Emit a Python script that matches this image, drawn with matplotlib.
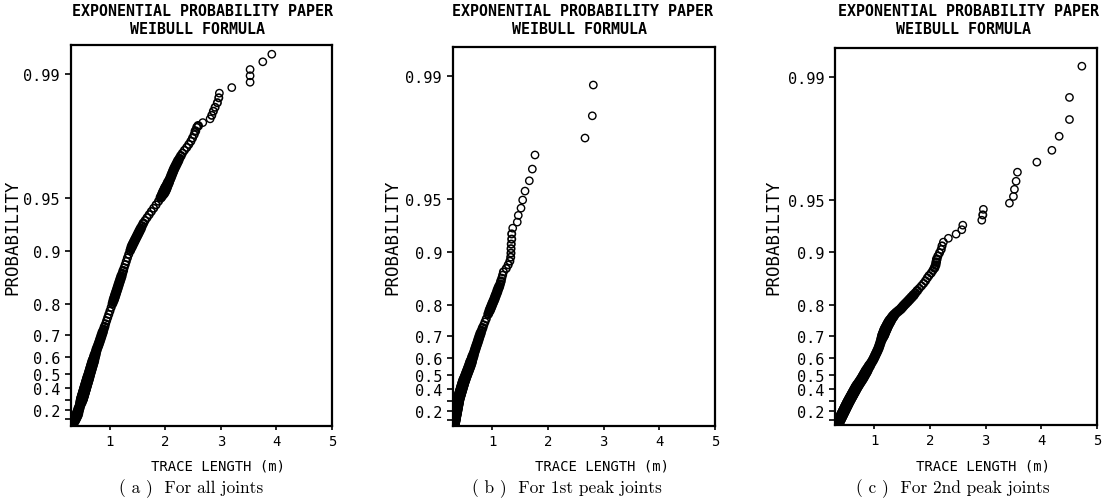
import numpy as np
import matplotlib
matplotlib.use("Agg")
import matplotlib.pyplot as plt

# ---------------- data (probability = Weibull plotting position, length in m) ----------------
a_prob = [0.02, 0.04, 0.06, 0.08, 0.10, 0.12, 0.14, 0.16, 0.18, 0.20, 0.22, 0.24, 0.26, 0.28, 0.30,
          0.31, 0.32, 0.33, 0.34, 0.35, 0.36, 0.37, 0.38, 0.39, 0.40, 0.41, 0.42, 0.43, 0.44, 0.45,
          0.46, 0.47, 0.48, 0.49, 0.50, 0.51, 0.52, 0.53, 0.54, 0.55, 0.56, 0.57, 0.58, 0.59, 0.60,
          0.61, 0.62, 0.63, 0.64, 0.65, 0.66, 0.67, 0.68, 0.69, 0.70, 0.71, 0.72, 0.73, 0.74, 0.75,
          0.76, 0.77, 0.78, 0.79, 0.80,
          0.805, 0.81, 0.815, 0.82, 0.825, 0.83, 0.835, 0.84, 0.845, 0.85, 0.855, 0.86, 0.865, 0.87,
          0.875, 0.88, 0.885, 0.89, 0.895, 0.90,
          0.9025, 0.905, 0.9075, 0.91, 0.9125, 0.915, 0.9175, 0.92, 0.9225, 0.925, 0.9275, 0.93,
          0.9325, 0.935, 0.9375, 0.94, 0.9425, 0.945, 0.9475, 0.95,
          0.951, 0.952, 0.953, 0.954, 0.955, 0.956, 0.957, 0.958, 0.959, 0.960, 0.961, 0.962, 0.963,
          0.964, 0.965, 0.966, 0.967, 0.968, 0.969, 0.970, 0.971, 0.972, 0.973, 0.974, 0.975, 0.976,
          0.977, 0.978, 0.979, 0.980,
          0.9804, 0.9812, 0.9821, 0.9829, 0.9838, 0.9846, 0.9855, 0.9864, 0.9872, 0.9881, 0.9889,
          0.9898, 0.9906, 0.9915, 0.9923]
a_length = [0.314, 0.328, 0.343, 0.357, 0.373, 0.388, 0.404, 0.416, 0.426, 0.436, 0.447, 0.459, 0.470, 0.482, 0.494,
            0.500, 0.506, 0.512, 0.518, 0.525, 0.531, 0.537, 0.544, 0.551, 0.557, 0.564, 0.571, 0.578, 0.585, 0.593,
            0.600, 0.608, 0.616, 0.624, 0.632, 0.640, 0.649, 0.657, 0.666, 0.675, 0.684, 0.694, 0.704, 0.713, 0.724,
            0.734, 0.745, 0.755, 0.766, 0.783, 0.797, 0.811, 0.825, 0.840, 0.855, 0.871, 0.888, 0.905, 0.923, 0.941,
            0.960, 0.980, 1.001, 1.023, 1.046,
            1.058, 1.070, 1.082, 1.094, 1.107, 1.120, 1.133, 1.147, 1.161, 1.176, 1.191, 1.207, 1.224, 1.241,
            1.258, 1.277, 1.296, 1.316, 1.339, 1.366,
            1.380, 1.394, 1.411, 1.430, 1.449, 1.469, 1.490, 1.511, 1.533, 1.556, 1.579, 1.603,
            1.634, 1.670, 1.708, 1.747, 1.789, 1.832, 1.876, 1.916,
            1.933, 1.950, 1.967, 1.983, 1.997, 2.011, 2.026, 2.041, 2.056, 2.072, 2.087, 2.102, 2.116,
            2.132, 2.147, 2.165, 2.186, 2.207, 2.229, 2.252, 2.279, 2.307, 2.342, 2.384, 2.421, 2.458,
            2.488, 2.518, 2.540, 2.564,
            2.590, 2.673, 2.805, 2.835, 2.864, 2.895, 2.936, 2.961, 2.972, 3.195, 3.525,
            3.525, 3.525, 3.754, 3.916]

b_prob = [0.01, 0.02, 0.03, 0.04, 0.05, 0.06, 0.07, 0.08, 0.09, 0.10, 0.11, 0.12, 0.13, 0.14, 0.15,
          0.16, 0.17, 0.18, 0.19, 0.20, 0.21, 0.22, 0.23, 0.24, 0.25, 0.26, 0.27, 0.28, 0.29, 0.30,
          0.31, 0.32, 0.33, 0.34, 0.35, 0.36, 0.37, 0.38, 0.39, 0.40, 0.41, 0.42, 0.43, 0.44, 0.45,
          0.46, 0.47, 0.48, 0.49, 0.50, 0.51, 0.52, 0.53, 0.54, 0.55, 0.56, 0.57, 0.58, 0.59, 0.60,
          0.61, 0.62, 0.63, 0.64, 0.65, 0.66, 0.67, 0.68, 0.69, 0.70, 0.71, 0.72, 0.73, 0.74, 0.75, 0.76,
          0.7740, 0.7797, 0.7853, 0.7910, 0.7966, 0.8023, 0.8079, 0.8136, 0.8192, 0.8249, 0.8305,
          0.8362, 0.8418, 0.8475, 0.8531, 0.8588, 0.8644, 0.8701, 0.8757, 0.8814, 0.8870, 0.8927,
          0.8983, 0.9040, 0.9096, 0.9153, 0.9209, 0.9266, 0.9322, 0.9379, 0.9435, 0.9492, 0.9548,
          0.9605, 0.9661, 0.9718, 0.9774, 0.9831, 0.9887]
b_length = [0.305, 0.307, 0.310, 0.313, 0.315, 0.318, 0.321, 0.324, 0.327, 0.329, 0.332, 0.335, 0.338, 0.341, 0.344,
            0.347, 0.350, 0.353, 0.357, 0.360, 0.363, 0.366, 0.370, 0.373, 0.376, 0.380, 0.383, 0.387, 0.390, 0.394,
            0.398, 0.402, 0.408, 0.415, 0.421, 0.427, 0.434, 0.440, 0.447, 0.454, 0.460, 0.467, 0.475, 0.482, 0.489,
            0.498, 0.508, 0.518, 0.528, 0.539, 0.549, 0.560, 0.571, 0.582, 0.594, 0.605, 0.615, 0.626, 0.637, 0.648,
            0.660, 0.672, 0.684, 0.696, 0.709, 0.722, 0.736, 0.750, 0.764, 0.779, 0.795, 0.813, 0.832, 0.853, 0.874, 0.897,
            0.930, 0.945, 0.960, 0.975, 0.990, 1.005, 1.022, 1.040, 1.055, 1.072, 1.090,
            1.105, 1.125, 1.145, 1.160, 1.175, 1.190, 1.205, 1.255, 1.290, 1.320, 1.335,
            1.340, 1.341, 1.345, 1.353, 1.353, 1.371, 1.453, 1.471, 1.520, 1.550, 1.592,
            1.669, 1.723, 1.771, 2.668, 2.799, 2.817]

c_prob = [0.01, 0.02, 0.03, 0.04, 0.05, 0.06, 0.07, 0.08, 0.09, 0.10, 0.11, 0.12, 0.13, 0.14, 0.15,
          0.16, 0.17, 0.18, 0.19, 0.20, 0.21, 0.22, 0.23, 0.24, 0.25, 0.26, 0.27, 0.28, 0.29, 0.30,
          0.31, 0.32, 0.33, 0.34, 0.35, 0.36, 0.37, 0.38, 0.39, 0.40, 0.41, 0.42, 0.43, 0.44, 0.45,
          0.46, 0.47, 0.48, 0.49, 0.50, 0.51, 0.52, 0.53, 0.54, 0.55, 0.56, 0.57, 0.58, 0.59, 0.60,
          0.61, 0.62, 0.63, 0.64, 0.65, 0.66, 0.67, 0.68, 0.69, 0.70,
          0.705, 0.71, 0.715, 0.72, 0.725, 0.73, 0.735, 0.74, 0.745, 0.75, 0.755, 0.76, 0.765, 0.77,
          0.775, 0.78, 0.785, 0.79, 0.795, 0.80, 0.805, 0.81, 0.815, 0.82, 0.825, 0.83, 0.835, 0.84,
          0.845, 0.85, 0.855,
          0.8603, 0.8646, 0.8690, 0.8734, 0.8777, 0.8821, 0.8865, 0.8908, 0.8952, 0.8996, 0.9039,
          0.9083, 0.9127, 0.9170, 0.9214, 0.9258, 0.9301, 0.9345, 0.9389, 0.9432, 0.9476, 0.9520,
          0.9563, 0.9607, 0.9651, 0.9694, 0.9738, 0.9782, 0.9825, 0.9869, 0.9913]
c_length = [0.307, 0.314, 0.321, 0.328, 0.335, 0.342, 0.349, 0.356, 0.364, 0.371, 0.379, 0.386, 0.394, 0.402, 0.410,
            0.418, 0.426, 0.434, 0.442, 0.451, 0.459, 0.468, 0.477, 0.485, 0.494, 0.504, 0.513, 0.522, 0.532, 0.543,
            0.553, 0.564, 0.575, 0.587, 0.598, 0.610, 0.621, 0.634, 0.646, 0.658, 0.671, 0.684, 0.700, 0.716, 0.733,
            0.749, 0.766, 0.783, 0.798, 0.813, 0.829, 0.845, 0.861, 0.877, 0.895, 0.914, 0.933, 0.953, 0.973, 0.990,
            1.007, 1.023, 1.041, 1.058, 1.075, 1.088, 1.102, 1.116, 1.131, 1.149,
            1.158, 1.168, 1.177, 1.187, 1.197, 1.209, 1.222, 1.235, 1.248, 1.264, 1.280, 1.298, 1.318, 1.340,
            1.362, 1.394, 1.432, 1.471, 1.500, 1.529, 1.563, 1.598, 1.632, 1.667, 1.703, 1.736, 1.770, 1.806,
            1.845, 1.883, 1.918,
            1.950, 1.980, 2.020, 2.050, 2.080, 2.100, 2.110, 2.120, 2.140, 2.170, 2.200,
            2.215, 2.239, 2.329, 2.467, 2.570, 2.588, 2.929, 2.947, 2.958, 3.426, 3.498,
            3.516, 3.546, 3.570, 3.919, 4.189, 4.320, 4.505, 4.505, 4.728]

prob_ticks = [0.1, 0.2, 0.3, 0.4, 0.5, 0.6, 0.7, 0.8, 0.9, 0.95, 0.99]
prob_tick_labels = ["", "0.2", "", "0.4", "0.5", "0.6", "0.7", "0.8", "0.9", "0.95", "0.99"]
length_ticks = [1, 2, 3, 4, 5]
length_tick_labels = ["1", "2", "3", "4", "5"]
title_line1 = "EXPONENTIAL PROBABILITY PAPER"
title_line2 = "WEIBULL FORMULA"
y_label = "PROBABILITY"
x_label = "TRACE LENGTH (m)"
captions = ["( a )  For all joints", "( b )  For 1st peak joints", "( c )  For 2nd peak joints"]

panels = [(a_length, a_prob), (b_length, b_prob), (c_length, c_prob)]

# ---------------- layout ----------------
W, H = 1109, 502
fig = plt.figure(figsize=(W / 100, H / 100), dpi=100)

# axes boxes in pixels: left, right, top, bottom
boxes = [(71, 332, 46, 426.7), (453, 715, 48, 427), (835.5, 1097, 49, 425.5)]
# reduced-variate limits of each panel
tlims = [(0.017, 4.987), (0.026, 4.98), (0.048, 4.983)]
title1_x = [203, 582, 969]
title2_x = [198, 580, 963]
xlabel_x = [218, 602, 983]
caption_x = [191, 567, 953]
ylabel_x = [12, 392, 773]


def fwd(p):
    p = np.asarray(p, dtype=float)
    return -np.log(np.clip(1.0 - p, 1e-12, None))


def inv(t):
    return 1.0 - np.exp(-np.asarray(t, dtype=float))


mono = "DejaVu Sans Mono"

for i, ((xs, ps), (l, r, t, b)) in enumerate(zip(panels, boxes)):
    ax = fig.add_axes([l / W, 1 - b / H, (r - l) / W, (b - t) / H])
    ax.set_yscale("function", functions=(fwd, inv))
    ax.set_xlim(0.3, 5.0)
    ax.set_ylim(float(inv(tlims[i][0])), float(inv(tlims[i][1])))

    # where markers crowd together, the printed ink merges into a heavy band:
    # thicken the circle outlines according to local crowding (display space)
    disp = ax.transData.transform(np.column_stack([xs, ps]))
    d = np.hypot(disp[:, None, 0] - disp[None, :, 0], disp[:, None, 1] - disp[None, :, 1])
    crowd = (d < 6.0).sum(axis=1) - 1
    lws = np.clip(0.45 * crowd + 0.3, 1.0, 3.2)

    ax.scatter(xs, ps, s=28, facecolors="none", edgecolors="black", linewidths=lws, zorder=3)

    ax.set_yticks(prob_ticks)
    ax.set_yticklabels(prob_tick_labels, fontfamily=mono, fontsize=11)
    ax.set_xticks(length_ticks)
    ax.set_xticklabels(length_tick_labels, fontfamily=mono, fontsize=10)
    ax.minorticks_off()
    ax.tick_params(axis="y", direction="out", length=4.5, width=1.2, pad=3.5)
    ax.tick_params(axis="x", direction="out", length=3, width=1.2, pad=3)
    for s in ax.spines.values():
        s.set_linewidth(1.6)
        s.set_color("black")

    fig.text(title1_x[i] / W, 1 - 12 / H, title_line1, ha="center", va="center",
             fontfamily=mono, fontsize=10.8, fontweight="bold")
    fig.text(title2_x[i] / W, 1 - 30 / H, title_line2, ha="center", va="center",
             fontfamily=mono, fontsize=10.8, fontweight="bold")
    fig.text(ylabel_x[i] / W, 1 - 237 / H, y_label, ha="center", va="center",
             rotation=90, fontfamily=mono, fontsize=12.5)
    fig.text(xlabel_x[i] / W, 1 - 467 / H, x_label, ha="center", va="center",
             fontfamily=mono, fontsize=10)
    fig.text(caption_x[i] / W, 1 - 489 / H, captions[i], ha="center", va="center",
             fontfamily="cmr10", fontsize=12.5)

fig.savefig("out.png", dpi=100, facecolor="white")
